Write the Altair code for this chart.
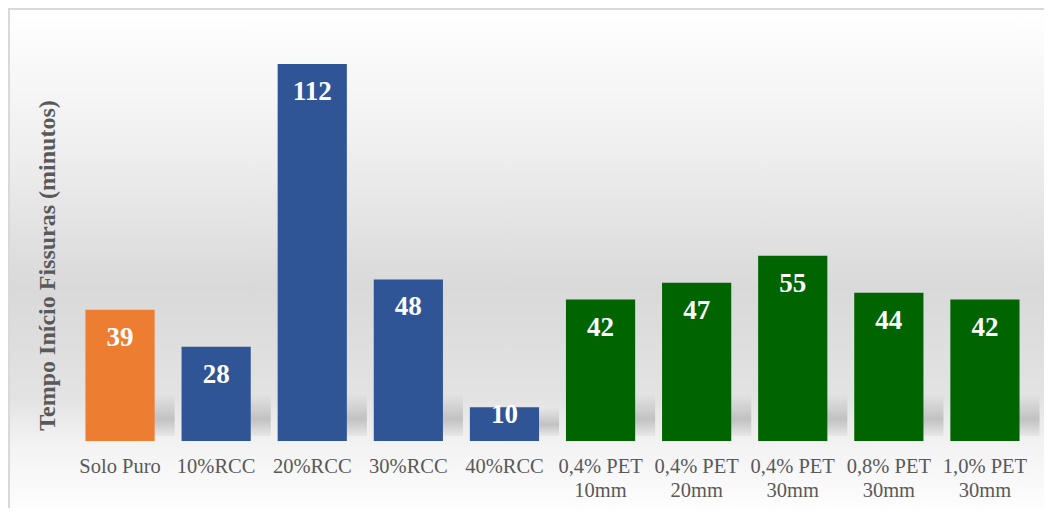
import altair as alt
import pandas as pd

categories = ["Solo Puro", "10%RCC", "20%RCC", "30%RCC", "40%RCC",
              "0,4% PET\n10mm", "0,4% PET\n20mm", "0,4% PET\n30mm",
              "0,8% PET\n30mm", "1,0% PET\n30mm"]
values = [39, 28, 112, 48, 10, 42, 47, 55, 44, 42]
groups = ["Solo", "RCC", "RCC", "RCC", "RCC", "PET", "PET", "PET", "PET", "PET"]
group_names = ["Solo", "RCC", "PET"]
group_colors = ["#ED7D31", "#2F5597", "#006400"]

df = pd.DataFrame({"cat": categories, "v": values, "g": groups})

W, H = 961, 404
PADL, PADT, PADR, PADB = 64, 29, 11, 67

xenc = alt.X("cat:N", sort=categories,
             scale=alt.Scale(paddingInner=0.28, paddingOuter=0.14),
             axis=alt.Axis(title=None, labelAngle=0, domain=False, ticks=False,
                           labelExpr="split(datum.label, '\\n')",
                           labelFont="Liberation Serif", labelFontSize=20.5,
                           labelColor="#595959", labelLineHeight=24,
                           labelPadding=15, labelBaseline="top", zindex=2))
yscale = alt.Scale(domain=[0, 120], nice=False)

bg = alt.Chart(pd.DataFrame({"a": [0]})).mark_rect(
    fill=alt.Gradient(gradient="linear", x1=0, y1=0, x2=0, y2=1, stops=[
        alt.GradientStop(color="#ffffff", offset=0),
        alt.GradientStop(color="#efefef", offset=0.28),
        alt.GradientStop(color="#d9d9d9", offset=0.56),
        alt.GradientStop(color="#e3e3e3", offset=0.78),
        alt.GradientStop(color="#f3f3f3", offset=0.875),
        alt.GradientStop(color="#fdfdfd", offset=1.0),
    ])
).encode(x=alt.value(-PADL), x2=alt.value(W + PADR),
         y=alt.value(-PADT), y2=alt.value(H + PADB))

border = alt.Chart(pd.DataFrame({"a": [0]})).mark_rect(
    fill=None, stroke="#d9d9d9", strokeWidth=2
).encode(x=alt.value(-PADL + 1), x2=alt.value(W + PADR + 20),
         y=alt.value(-PADT + 1), y2=alt.value(H + PADB + 20))

base = alt.Chart(df)

yaxis = alt.Axis(title="Tempo Início Fissuras (minutos)", labels=False,
                 ticks=False, domain=False, grid=False,
                 titleFont="Liberation Serif", titleFontSize=24,
                 titleFontWeight="bold", titleColor="#595959",
                 titleAngle=270, titleX=-25, titleY=228,
                 titleAlign="center", titleBaseline="middle", zindex=2)

shadow = base.transform_calculate(
    sh="min(datum.v, 14)"
).mark_bar(xOffset=20, fill=alt.Gradient(gradient="linear", x1=0, y1=0, x2=0, y2=1, stops=[
    alt.GradientStop(color="rgba(160,160,160,0)", offset=0),
    alt.GradientStop(color="rgba(160,160,160,0.55)", offset=0.6),
    alt.GradientStop(color="rgba(160,160,160,0.1)", offset=1),
])).encode(x=xenc, y=alt.Y("sh:Q", scale=yscale, axis=yaxis), y2=alt.datum(1.5))

bars = base.mark_bar().encode(
    x=xenc,
    y=alt.Y("v:Q", scale=yscale, axis=yaxis),
    color=alt.Color("g:N", scale=alt.Scale(domain=group_names, range=group_colors),
                    legend=None),
)

text = base.transform_calculate(
    ly="datum.v > 15 ? datum.v - 8.3 : datum.v - 2.4"
).mark_text(font="Liberation Serif", fontSize=27, fontWeight="bold",
            color="white", baseline="middle").encode(
    x=xenc, y=alt.Y("ly:Q", scale=yscale, axis=yaxis), text="v:Q")

chart = alt.layer(bg, border, shadow, bars, text).properties(
    width=W, height=H,
    autosize=alt.AutoSizeParams(type="none"),
    padding={"left": PADL, "top": PADT, "right": PADR, "bottom": PADB},
).configure_view(stroke=None)

chart.save("out.html", embed_options={"renderer": "svg", "actions": False})
